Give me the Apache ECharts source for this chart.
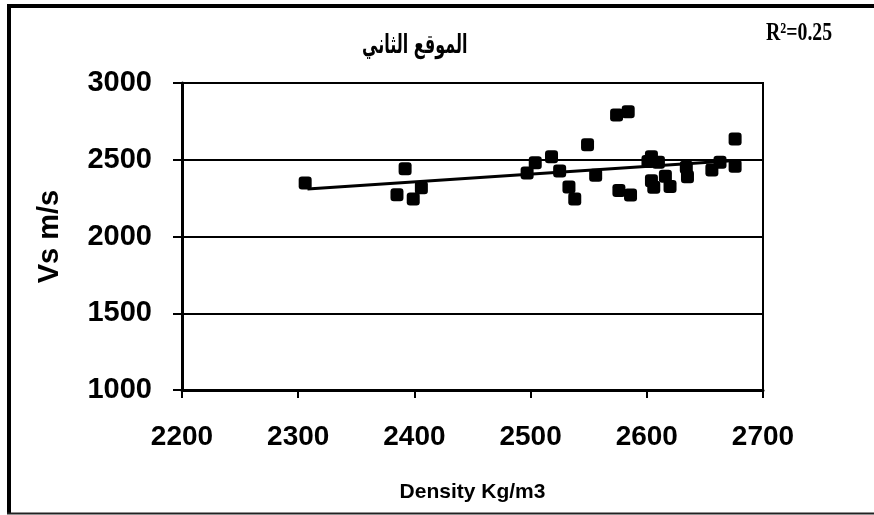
<!DOCTYPE html>
<html>
<head>
<meta charset="utf-8">
<script src="https://cdn.jsdelivr.net/npm/echarts@6/dist/echarts.min.js"></script>
<style>html,body{margin:0;padding:0;background:#fff;}#c{width:874px;height:515px;}</style>
</head>
<body>
<div id="c"></div>
<script>
const density = [2306, 2385, 2392, 2399, 2406, 2497, 2504, 2518, 2525, 2533, 2538, 2549, 2556, 2574, 2576, 2584, 2586, 2601, 2604, 2604, 2606, 2610, 2616, 2620, 2634, 2635, 2656, 2663, 2676, 2676];
const vs = [2349, 2272, 2442, 2244, 2318, 2414, 2481, 2520, 2427, 2322, 2244, 2598, 2399, 2792, 2300, 2813, 2270, 2488, 2520, 2364, 2321, 2484, 2393, 2325, 2451, 2390, 2433, 2483, 2635, 2457];
const trendX = [2308, 2676];
const trendY = [2309, 2495];
const xTicks = [2200, 2300, 2400, 2500, 2600, 2700];
const yTicks = [1000, 1500, 2000, 2500, 3000];
const titleText = 'الموقع الثاني';
const r2Text = 'R²=0.25';
const xName = 'Density Kg/m3';
const yName = 'Vs m/s';

const chart = echarts.init(document.getElementById('c'), null, {renderer: 'canvas'});
const points = density.map((d, i) => [d, vs[i]]);
const trend = trendX.map((d, i) => [d, trendY[i]]);
const labelFont = {fontFamily: 'Liberation Sans, Arial', fontWeight: 'bold', fontSize: 29, color: '#000', formatter: v => String(v)};
chart.setOption({
  animation: false,
  backgroundColor: '#fff',
  grid: {left: 182, right: 111, top: 83, bottom: 125, show: true, borderColor: '#000', borderWidth: 2, backgroundColor: 'transparent'},
  xAxis: {
    type: 'value', min: xTicks[0], max: xTicks[xTicks.length - 1], interval: 100,
    axisLine: {show: true, lineStyle: {color: '#000', width: 3}},
    axisTick: {show: true, length: 8, lineStyle: {color: '#000', width: 2}},
    splitLine: {show: false},
    axisLabel: Object.assign({margin: 33}, labelFont, {fontSize: 28}),
    name: xName, nameLocation: 'middle', nameGap: 92,
    nameTextStyle: {fontFamily: 'Liberation Sans, Arial', fontWeight: 'bold', fontSize: 21, color: '#000'}
  },
  yAxis: {
    type: 'value', min: yTicks[0], max: yTicks[yTicks.length - 1], interval: 500,
    axisLine: {show: true, lineStyle: {color: '#000', width: 3}},
    axisTick: {show: true, length: 9, lineStyle: {color: '#000', width: 2}},
    splitLine: {show: true, lineStyle: {color: '#000', width: 2}},
    axisLabel: Object.assign({margin: 30}, labelFont),
    name: yName, nameLocation: 'middle', nameGap: 118, nameRotate: 90,
    nameTextStyle: {fontFamily: 'Liberation Sans, Arial', fontWeight: 'bold', fontSize: 29, color: '#000'}
  },
  series: [
    {type: 'line', data: trend, symbol: 'none', lineStyle: {color: '#000', width: 3}, z: 3},
    {type: 'scatter', data: points, symbol: 'roundRect', symbolSize: 13, itemStyle: {color: '#000', opacity: 1}, z: 4}
  ],
  graphic: [
    {type: 'text', x: 362, y: 33, scaleX: 0.8, scaleY: 1.3, style: {text: titleText, font: 'bold 20px "DejaVu Sans"', fill: '#000', textVerticalAlign: 'top'}},
    {type: 'text', x: 766, y: 20, scaleX: 0.86, scaleY: 1.12, style: {text: r2Text, font: 'bold 23px "Liberation Serif"', fill: '#000', textVerticalAlign: 'top'}},
    {type: 'line', shape: {x1: 7, y1: 6, x2: 874, y2: 6}, style: {stroke: '#000', lineWidth: 4}},
    {type: 'line', shape: {x1: 9, y1: 4, x2: 9, y2: 514}, style: {stroke: '#000', lineWidth: 4}},
    {type: 'line', shape: {x1: 7, y1: 513.5, x2: 874, y2: 513.5}, style: {stroke: '#222', lineWidth: 2}}
  ]
});
</script>
</body>
</html>
